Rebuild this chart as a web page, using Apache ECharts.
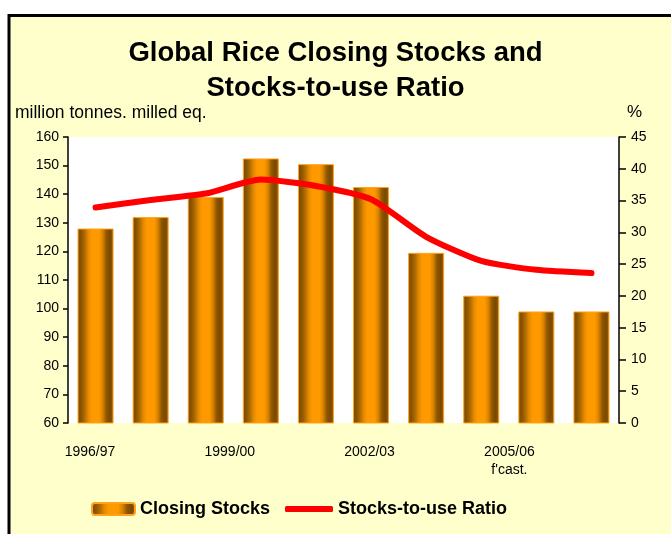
<!DOCTYPE html>
<html>
<head>
<meta charset="utf-8">
<script src="https://cdn.jsdelivr.net/npm/echarts@6/dist/echarts.min.js"></script>
<style>
html,body{margin:0;padding:0;background:#fff;}
#c{width:671px;height:534px;}
</style>
</head>
<body>
<div id="c"></div>
<script>
var categories = ['1996/97','1997/98','1998/99','1999/00','2000/01','2001/02','2002/03','2003/04','2004/05',"2005/06\nf'cast."];
var closingStocks = [128, 132, 139, 152.5, 150.5, 142.5, 119.5, 104.5, 99, 99];
var stocksToUse = [33.9, 35.1, 36.1, 38.3, 37.3, 35.2, 29.3, 25.5, 24.1, 23.6];
var leftTicks = {min: 60, max: 160, interval: 10};
var rightTicks = {min: 0, max: 45, interval: 5};

var FONT = '"Liberation Sans", Arial, sans-serif';
var barGrad = new echarts.graphic.LinearGradient(0, 0, 1, 0, [
  {offset: 0, color: '#7a4800'},
  {offset: 0.1, color: '#8a5400'},
  {offset: 0.2, color: '#b06c00'},
  {offset: 0.3, color: '#e58a00'},
  {offset: 0.4, color: '#ff9900'},
  {offset: 0.6, color: '#ff9900'},
  {offset: 0.7, color: '#d98200'},
  {offset: 0.8, color: '#8f5700'},
  {offset: 0.9, color: '#7a4800'},
  {offset: 1, color: '#9c5f00'}
]);

var chart = echarts.init(document.getElementById('c'), null, {renderer: 'canvas'});
chart.setOption({
  backgroundColor: '#fff',
  animation: false,
  graphic: [
    {type: 'rect', z: -10, shape: {x: 9, y: 15.5, width: 700, height: 600},
     style: {fill: '#ffffcc', stroke: '#000', lineWidth: 3}},
    {type: 'text', left: 'center', top: 36, z: 10,
     style: {text: 'Global Rice Closing Stocks and\nStocks-to-use Ratio', font: 'bold 27.5px ' + FONT,
             fill: '#000', textAlign: 'center', lineHeight: 35}},
    {type: 'text', left: 15, top: 104, z: 10,
     style: {text: 'million tonnes. milled eq.', font: '17.5px ' + FONT, fill: '#000'}},
    {type: 'text', left: 627, top: 104, z: 10,
     style: {text: '%', font: '17px ' + FONT, fill: '#000'}}
  ],
  legend: [
    {left: 86, top: 495, itemWidth: 43, itemHeight: 12, data: ['Closing Stocks'],
     textStyle: {fontFamily: FONT, fontSize: 18, fontWeight: 'bold', color: '#000'}},
    {left: 280, top: 495, itemWidth: 48, itemHeight: 6,
     data: [{name: 'Stocks-to-use Ratio', icon: 'roundRect'}],
     textStyle: {fontFamily: FONT, fontSize: 18, fontWeight: 'bold', color: '#000'}}
  ],
  grid: [
    {left: 68, right: 52, top: 137, bottom: 111, show: true, backgroundColor: '#fff', borderWidth: 0},
    {left: 66.7, width: 466, top: 137, bottom: 111, show: false}
  ],
  xAxis: [
    {type: 'category', gridIndex: 0, data: categories, boundaryGap: true,
     axisLine: {show: false}, axisTick: {show: false}, axisLabel: {show: false}},
    {type: 'category', gridIndex: 1, data: categories, boundaryGap: true,
     axisLine: {show: false}, axisTick: {show: false},
     axisLabel: {interval: 2, margin: 20, fontFamily: FONT, fontSize: 14, color: '#000', lineHeight: 18}}
  ],
  yAxis: [
    {type: 'value', gridIndex: 0, position: 'left', min: leftTicks.min, max: leftTicks.max, interval: leftTicks.interval,
     axisLine: {show: true, lineStyle: {color: '#000', width: 1.5}},
     axisTick: {show: true, length: 5, lineStyle: {color: '#000', width: 1.5}},
     splitLine: {show: false},
     axisLabel: {margin: 9, fontFamily: FONT, fontSize: 14, color: '#000'}},
    {type: 'value', gridIndex: 0, position: 'right', min: rightTicks.min, max: rightTicks.max, interval: rightTicks.interval,
     axisLine: {show: true, lineStyle: {color: '#000', width: 1.5}},
     axisTick: {show: true, length: 7, lineStyle: {color: '#000', width: 1.5}},
     splitLine: {show: false},
     axisLabel: {margin: 12, fontFamily: FONT, fontSize: 14, color: '#000'}},
    {type: 'value', gridIndex: 1, show: false}
  ],
  series: [
    {name: 'Closing Stocks', type: 'bar', xAxisIndex: 0, yAxisIndex: 0, data: closingStocks,
     barWidth: 36,
     itemStyle: {color: barGrad, borderColor: '#ffa31a', borderWidth: 1}},
    {name: 'Stocks-to-use Ratio', type: 'line', xAxisIndex: 0, yAxisIndex: 1, data: stocksToUse,
     symbol: 'none', smooth: 0.2, z: 5,
     lineStyle: {color: '#ff0000', width: 6, cap: 'round', join: 'round'},
     itemStyle: {color: '#ff0000'}}
  ]
});
</script>
</body>
</html>
